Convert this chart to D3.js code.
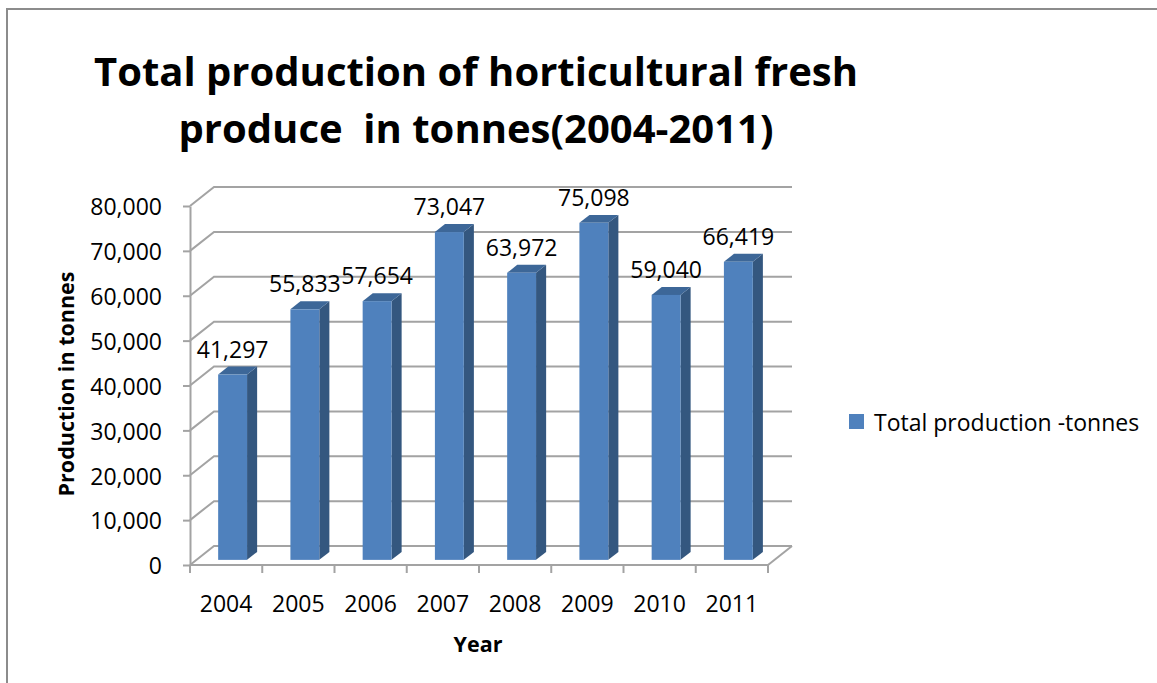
<!DOCTYPE html>
<html>
<head>
<meta charset="utf-8">
<script src="https://cdn.jsdelivr.net/npm/d3@7/dist/d3.min.js"></script>
<style>
  html, body { margin: 0; padding: 0; background: #ffffff; }
  svg { display: block; }
  text { font-family: "Open Sans", "Noto Sans", sans-serif; fill: #000; white-space: pre; }
</style>
</head>
<body>
<svg id="chart" width="1157" height="683"></svg>
<script>
// Yearly totals of horticultural fresh produce (tonnes)
const years = ["2004", "2005", "2006", "2007", "2008", "2009", "2010", "2011"];
const production = [41297, 55833, 57654, 73047, 63972, 75098, 59040, 66419];
const yTicks = [0, 10000, 20000, 30000, 40000, 50000, 60000, 70000, 80000];
const titleLines = ["Total production of horticultural fresh", "produce  in tonnes(2004-2011)"];
const seriesName = "Total production -tonnes";
const xAxisTitle = "Year";
const yAxisTitle = "Production in tonnes";

const svg = d3.select("#chart");
const labelSize = 23;

// outer chart frame
svg.append("rect")
  .attr("x", 7).attr("y", 9).attr("width", 1170).attr("height", 700)
  .attr("fill", "#fff").attr("stroke", "#8c8c8c").attr("stroke-width", 2);

// front plane scales
const x = d3.scaleBand().domain(years).range([190, 768]).paddingInner(0.6).paddingOuter(0.3);
const y = d3.scaleLinear().domain([0, 80000]).range([565, 206]);

// depth of the 3D box (offset from front plane to back wall)
const depth = { dx: 24, dy: -19 };
const barFront = 0.27, barBack = 0.69;   // bar position within the depth
const gridColor = "#a3a3a3";

// back wall gridlines with their left diagonal
const grid = svg.append("g");
yTicks.forEach(v => {
  const x0 = x.range()[0], y0 = y(v);
  grid.append("path")
    .attr("d", `M${x0},${y0} L${x0 + depth.dx},${y0 + depth.dy} L${x.range()[1] + depth.dx},${y0 + depth.dy}`)
    .attr("fill", "none").attr("stroke", gridColor).attr("stroke-width", 2);
});

// floor: front edge and right diagonal
const floorY = y(0);
grid.append("path")
  .attr("d", `M${x.range()[1]},${floorY} L${x.range()[1] + depth.dx},${floorY + depth.dy}`)
  .attr("fill", "none").attr("stroke", gridColor).attr("stroke-width", 2);
grid.append("line")
  .attr("x1", x.range()[0]).attr("x2", x.range()[1])
  .attr("y1", floorY).attr("y2", floorY)
  .attr("stroke", gridColor).attr("stroke-width", 2);

// category boundary ticks
d3.range(years.length + 1).forEach(i => {
  const bx = x.range()[0] + i * x.step();
  grid.append("line")
    .attr("x1", bx).attr("x2", bx).attr("y1", floorY).attr("y2", floorY + 8)
    .attr("stroke", gridColor).attr("stroke-width", 2);
});

// value axis
const yAxis = svg.append("g")
  .attr("transform", `translate(${x.range()[0]},0)`)
  .call(d3.axisLeft(y).tickValues(yTicks).tickFormat(d3.format(",")).tickSize(7).tickSizeOuter(0).tickPadding(21));
yAxis.select(".domain").attr("stroke", gridColor).attr("stroke-width", 2);
yAxis.selectAll(".tick line").attr("stroke", gridColor).attr("stroke-width", 2);
yAxis.selectAll(".tick text").attr("font-size", labelSize).attr("font-family", "Open Sans").attr("fill", "#000").attr("dy", "0.38em");

// bars: front, right side and top faces
const fx = barFront * depth.dx, fy = barFront * depth.dy;
const sx = (barBack - barFront) * depth.dx, sy = (barBack - barFront) * depth.dy;
const bars = svg.append("g");
years.forEach((yr, i) => {
  const v = production[i];
  const left = x(yr) + fx, right = left + x.bandwidth();
  const top = y(v) + fy, bottom = y(0) + fy;
  const g = bars.append("g");
  g.append("path") // side
    .attr("d", `M${right},${bottom} L${right + sx},${bottom + sy} L${right + sx},${top + sy} L${right},${top} Z`)
    .attr("fill", "#34577f");
  g.append("path") // top
    .attr("d", `M${left},${top} L${left + sx},${top + sy} L${right + sx},${top + sy} L${right},${top} Z`)
    .attr("fill", "#3d6798");
  g.append("rect") // front
    .attr("x", left).attr("y", top).attr("width", x.bandwidth()).attr("height", bottom - top)
    .attr("fill", "#4f81bd");
  // value label
  svg.append("text")
    .attr("x", left + x.bandwidth() / 2).attr("y", top - 17)
    .attr("text-anchor", "middle").attr("font-size", labelSize)
    .text(d3.format(",")(v));
});

// category labels
svg.append("g").selectAll("text").data(years).join("text")
  .attr("x", d => x(d) + x.bandwidth() / 2).attr("y", 612)
  .attr("text-anchor", "middle").attr("font-size", labelSize)
  .text(d => d);

// axis titles
svg.append("text")
  .attr("x", 478).attr("y", 652).attr("text-anchor", "middle")
  .attr("font-size", 21.5).attr("font-weight", "bold").text(xAxisTitle);
svg.append("text")
  .attr("transform", "translate(74,384) rotate(-90)").attr("text-anchor", "middle")
  .attr("font-size", 21.5).attr("font-weight", "bold").text(yAxisTitle);

// chart title
svg.append("g").selectAll("text").data(titleLines).join("text")
  .attr("x", 476).attr("y", (d, i) => 86 + i * 57)
  .attr("text-anchor", "middle").attr("font-size", 40).attr("font-weight", "bold")
  .text(d => d);

// legend
svg.append("rect").attr("x", 849).attr("y", 414).attr("width", 15).attr("height", 15).attr("fill", "#4f81bd");
svg.append("text").attr("x", 874).attr("y", 431).attr("font-size", labelSize).text(seriesName);
</script>
</body>
</html>
